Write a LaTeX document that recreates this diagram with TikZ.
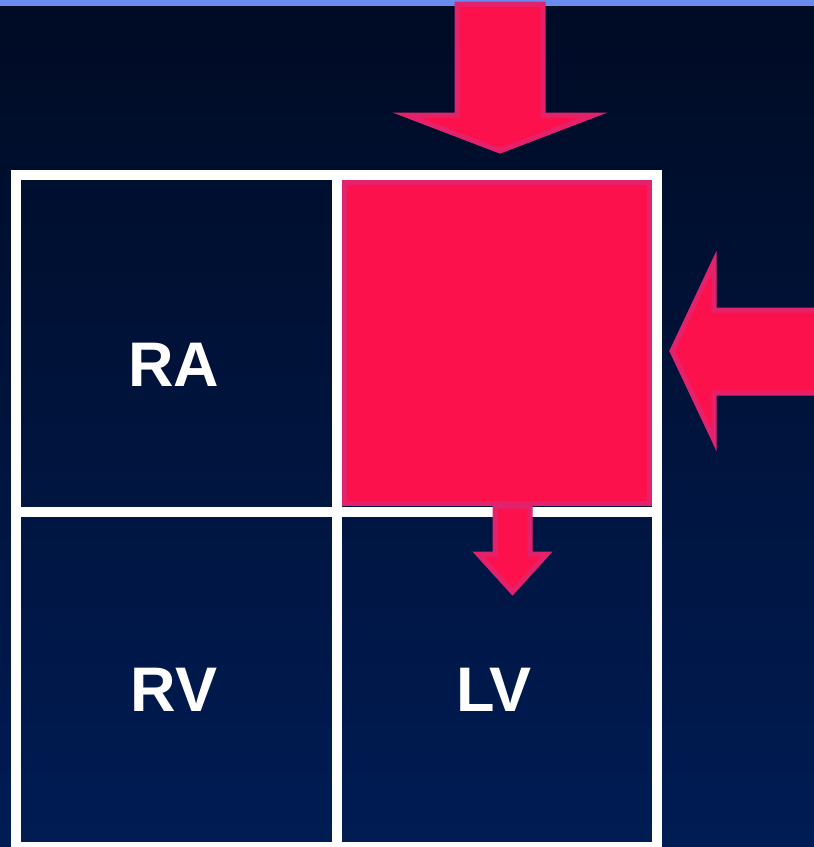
\documentclass[tikz,border=0pt]{standalone}
\usepackage{fontspec}
\newfontfamily\chamberfont{Liberation Sans}
\definecolor{bgtop}{HTML}{000B24}
\definecolor{bgbot}{HTML}{001C54}
\definecolor{topband}{HTML}{6A8CF0}
\definecolor{lared}{HTML}{FC114D}
\definecolor{laedge}{HTML}{E4226C}
\tikzset{
  chamber/.style={minimum width=310pt, minimum height=326pt, inner sep=0pt, outer sep=0pt},
  chamberlabel/.style={text=white, font=\chamberfont\bfseries\fontsize{63}{70}\selectfont},
  bigarrow/.style={fill=lared, draw=laedge, line width=5pt, line join=miter},
}
\begin{document}
\begin{tikzpicture}[x=1pt,y=-1pt]

\useasboundingbox (0,0) rectangle (814,847);
\shade[top color=bgtop, bottom color=bgbot] (0,0) rectangle (814,847);
\fill[topband] (0,0) rectangle (814,6);

\node[chamber] (ra) at (176,343) {};
\node[chamber] (la) at (497,343) {};
\node[chamber] (rv) at (176,679) {};
\node[chamber] (lv) at (497,679) {};

\begin{scope}[white, line width=10pt]
\draw (16,175) rectangle (657,847);
\draw (336.5,175) -- (336.5,847);
\draw (16,511.5) -- (657,511.5);
\end{scope}

\filldraw[fill=lared, draw=laedge, line width=5pt] (344.5,182.5) rectangle (649.5,503.5);

\node[chamberlabel] (ralabel) at (174,365) {RA};
\node[chamberlabel] (rvlabel) at (174,690) {RV};
\node[chamberlabel] (lvlabel) at (494,690) {LV};

\begin{scope}[bigarrow]
\filldraw (457,4) -- (543,4) -- (543,115) -- (594,115) -- (500,151) -- (406,115) -- (457,115) -- cycle;
\filldraw (820,310) -- (714,310) -- (714,262) -- (672,351) -- (714,440) -- (714,393) -- (820,393) -- cycle;
\filldraw (495,506) -- (530,506) -- (530,554) -- (547,554) -- (512.5,592) -- (478,554) -- (495,554) -- cycle;
\end{scope}

\end{tikzpicture}
\end{document}
